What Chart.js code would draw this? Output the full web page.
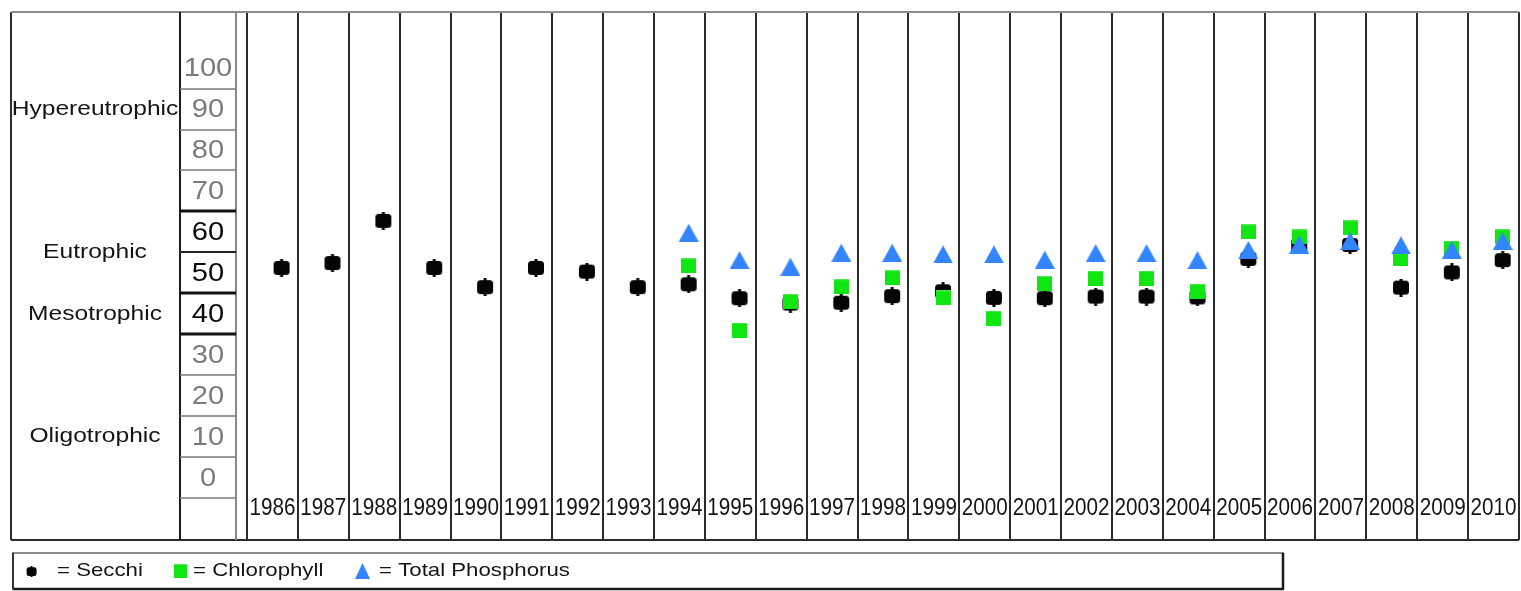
<!DOCTYPE html>
<html><head><meta charset="utf-8">
<script src="https://cdn.jsdelivr.net/npm/chart.js@4"></script>
<style>html,body{margin:0;padding:0;background:#fff;overflow:hidden;}canvas{display:block;}</style>
</head><body>
<canvas id="c" width="1521" height="591"></canvas>
<script>
// ---- data ----
const years = [1986,1987,1988,1989,1990,1991,1992,1993,1994,1995,1996,1997,1998,1999,2000,2001,2002,2003,2004,2005,2006,2007,2008,2009,2010];
const secchi = [51.2,52.4,62.7,51.2,46.5,51.2,50.3,46.5,47.2,43.8,42.5,42.7,44.3,45.5,43.9,43.8,44.2,44.2,44.0,53.4,56.7,56.8,46.4,50.1,53.1];
const chlorophyll = [null,null,null,null,null,null,null,null,51.7,36.0,43.0,46.6,48.8,43.9,38.9,47.4,48.7,48.7,45.5,60.0,58.8,61.0,53.5,56.0,58.8];
const totalPhosphorus = [null,null,null,null,null,null,null,null,59.8,53.1,51.5,54.9,54.9,54.5,54.5,53.2,54.8,54.8,53.1,55.6,56.9,57.8,56.7,55.6,57.8];
const scaleTicks = [100,90,80,70,60,50,40,30,20,10,0];
const boldTicks = [60,50,40];
const zoneNames = ['Hypereutrophic','Eutrophic','Mesotrophic','Oligotrophic'];
const zoneAt = [90,55,40,10];
const seriesNames = ['Secchi','Chlorophyll','Total Phosphorus'];

// ---- marker images ----
function mk(w,h,draw){const c=document.createElement('canvas');c.width=w;c.height=h;const g=c.getContext('2d');draw(g,w,h);return c;}
function rr(g,x,y,w,h,r){g.beginPath();g.moveTo(x+r,y);g.lineTo(x+w-r,y);g.quadraticCurveTo(x+w,y,x+w,y+r);g.lineTo(x+w,y+h-r);g.quadraticCurveTo(x+w,y+h,x+w-r,y+h);g.lineTo(x+r,y+h);g.quadraticCurveTo(x,y+h,x,y+h-r);g.lineTo(x,y+r);g.quadraticCurveTo(x,y,x+r,y);g.closePath();}
function secchiMarker(s){return mk(Math.round(18*s),Math.round(18*s),(g,w,h)=>{g.scale(s,s);g.fillStyle='#050505';rr(g,1,2,16,14,3.5);g.fill();g.fillRect(7.5,0,3,18);});}
function chlMarker(w,h){return mk(w,h,(g)=>{g.fillStyle='#12e612';g.fillRect(0,0,w,h);g.fillStyle='rgba(255,255,255,0.25)';g.fillRect(0,0,w,1);});}
function tpMarker(w,h){return mk(w,h,(g)=>{g.fillStyle='#3384ff';g.beginPath();g.moveTo(w/2,0);g.lineTo(w,h);g.lineTo(0,h);g.closePath();g.fill();});}

const mSecchi = secchiMarker(1), mChl = chlMarker(15,15), mTp = tpMarker(20,18);
const legendMarkers = [secchiMarker(0.62), chlMarker(13,14), tpMarker(15,16)];

const toPts = arr => years.map((y,i)=>arr[i]==null?null:{x:y,y:arr[i]}).filter(p=>p);

// ---- layout constants ----
const SHIFT = 0.18;          // marks sit a bit right of column centre
const FRAME_LEFT = 11, SCALE_L = 180, SCALE_R = 236, ZONE_CX = 95;
const LEGEND = {l:13,t:553,r:1283,b:589, markerX:[31,180,362], textX:[57,193,379]};

function stretchText(ctx,s,x,y,font,color,sx,align){
  ctx.save();ctx.font=font;ctx.fillStyle=color;ctx.textBaseline='middle';ctx.textAlign='left';
  const w=ctx.measureText(s).width*sx;
  const left = align==='center'? x-w/2 : align==='right'? x-w : x;
  ctx.translate(left,y);ctx.scale(sx,1);ctx.fillText(s,0,0);ctx.restore();
}
function hline(ctx,x1,x2,y,c,w){ctx.beginPath();ctx.strokeStyle=c;ctx.lineWidth=w;ctx.moveTo(x1,y);ctx.lineTo(x2,y);ctx.stroke();}
function vline(ctx,x,y1,y2,c,w){ctx.beginPath();ctx.strokeStyle=c;ctx.lineWidth=w;ctx.moveTo(x,y1);ctx.lineTo(x,y2);ctx.stroke();}

const FONT = '"Liberation Sans", Arial, sans-serif';

const tsiPlugin = {
  id:'tsi',
  beforeDatasetsDraw(chart){
    const ctx=chart.ctx, ca=chart.chartArea, xs=chart.scales.x, ys=chart.scales.y;
    ctx.save();
    ctx.fillStyle='#fff';ctx.fillRect(0,0,chart.width,chart.height);
    const top=ca.top, bot=ca.bottom+1;
    // column lines
    for(let i=0;i<=years.length;i++){
      const px=Math.round(xs.getPixelForValue(years[0]-0.5-SHIFT+i));
      vline(ctx,px,top,bot,'#2b2b2b',2);
    }
    // year labels
    years.forEach(y=>{
      const px=xs.getPixelForValue(y-SHIFT);
      const f='23px '+FONT;
      ctx.font=f;
      const w=ctx.measureText(String(y)).width;
      stretchText(ctx,String(y),px,ys.getPixelForValue(-7.6),f,'#151515',Math.min(1,46/w),'center');
    });
    // outer frame
    vline(ctx,FRAME_LEFT,top,bot,'#2b2b2b',2);
    hline(ctx,FRAME_LEFT,ca.right,top,'#8c8c8c',2);
    hline(ctx,FRAME_LEFT,ca.right,bot,'#2b2b2b',2);
    // scale box
    vline(ctx,SCALE_L,top,bot,'#1e1e1e',2);
    vline(ctx,SCALE_R,top,bot,'#8a8a8a',2);
    for(let v=-5; v<=95; v+=10){
      const py=Math.round(ys.getPixelForValue(v));
      if(v===65||v===45||v===35) hline(ctx,SCALE_L,SCALE_R,py,'#111',3);
      else if(v===55) hline(ctx,SCALE_L,SCALE_R,py,'#222',2);
      else hline(ctx,SCALE_L,SCALE_R,py,'#7a7a7a',1.6);
    }
    scaleTicks.forEach(t=>{
      const bold=boldTicks.includes(t);
      stretchText(ctx,String(t),208,ys.getPixelForValue(t)+1,'26px '+FONT,bold?'#0a0a0a':'#7b7b7b',1.12,'center');
    });
    zoneNames.forEach((n,i)=>{
      stretchText(ctx,n,ZONE_CX,ys.getPixelForValue(zoneAt[i]),'21px '+FONT,'#141414',1.17,'center');
    });
    ctx.restore();
  },
  afterDraw(chart){
    const ctx=chart.ctx;
    ctx.save();
    // legend box
    ctx.strokeStyle='#8a8a8a';ctx.lineWidth=2;
    ctx.strokeRect(LEGEND.l,LEGEND.t,LEGEND.r-LEGEND.l,LEGEND.b-LEGEND.t);
    hline(ctx,LEGEND.l,LEGEND.r+1,LEGEND.b,'#1a1a1a',2.5);
    vline(ctx,LEGEND.r,LEGEND.t,LEGEND.b+1,'#1a1a1a',2.5);
    vline(ctx,LEGEND.l,LEGEND.t,LEGEND.b,'#333',2);
    const cy=(LEGEND.t+LEGEND.b)/2;
    chart.data.datasets.forEach((ds,i)=>{
      const m=legendMarkers[i];
      ctx.drawImage(m,Math.round(LEGEND.markerX[i]-m.width/2),Math.round(cy-m.height/2));
      stretchText(ctx,'= '+ds.label,LEGEND.textX[i],cy,'19px '+FONT,'#141414',1.17,'left');
    });
    ctx.restore();
  }
};

new Chart(document.getElementById('c'),{
  type:'scatter',
  data:{datasets:[
    {label:seriesNames[0],data:toPts(secchi),pointStyle:mSecchi,order:3},
    {label:seriesNames[1],data:toPts(chlorophyll),pointStyle:mChl,order:2},
    {label:seriesNames[2],data:toPts(totalPhosphorus),pointStyle:mTp,order:1}
  ]},
  options:{
    responsive:false,animation:false,devicePixelRatio:1,events:[],
    layout:{autoPadding:false,padding:{left:247,right:2,top:12,bottom:52}},
    plugins:{legend:{display:false},tooltip:{enabled:false}},
    scales:{
      x:{type:'linear',display:false,min:years[0]-0.5-SHIFT,max:years[years.length-1]+0.5-SHIFT},
      y:{type:'linear',display:false,min:-15,max:113.7}
    },
    elements:{point:{radius:8}},
    clip:false
  },
  plugins:[tsiPlugin]
});
</script>
</body></html>
